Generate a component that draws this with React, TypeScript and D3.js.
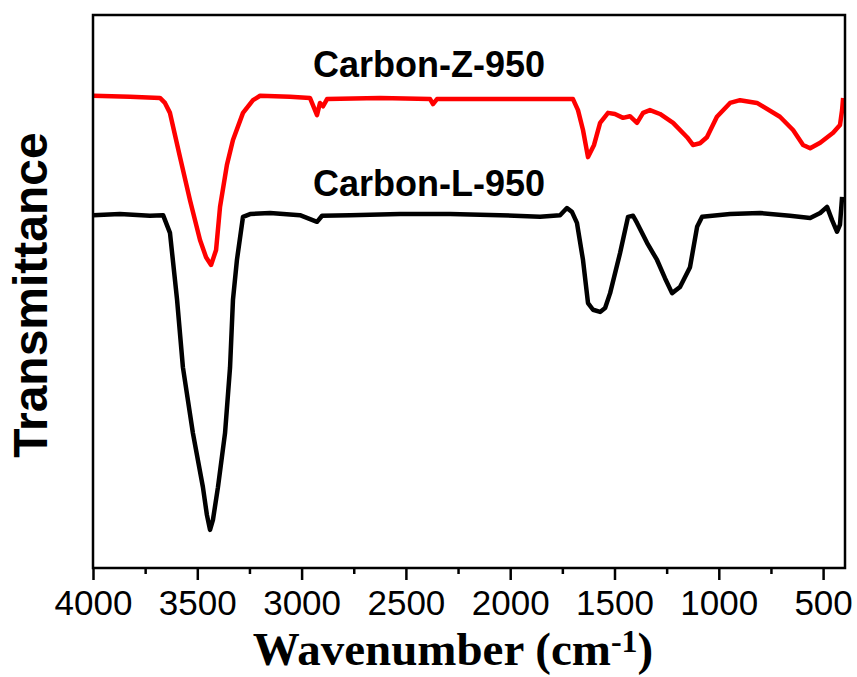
import React, { useRef, useEffect } from 'react';
import * as d3 from 'd3';

// wavenumber (cm-1) and transmittance (a.u.)
const zWave = [4000, 3823, 3679, 3655, 3631, 3583, 3535, 3487, 3458, 3434, 3410, 3391, 3358, 3329, 3281, 3233, 3199, 3056, 2960, 2926, 2912, 2897, 2878, 2624, 2384, 2370, 2351, 2049, 1699, 1675, 1651, 1627, 1598, 1569, 1531, 1498, 1459, 1426, 1392, 1363, 1330, 1282, 1219, 1152, 1124, 1090, 1057, 1009, 946, 898, 817, 707, 644, 596, 562, 514, 452, 419, 409, 404];
const zTrans = [85.4, 85.2, 85.0, 84.1, 82.3, 74.3, 66.5, 59.3, 56.2, 54.8, 57.5, 65.3, 72.9, 77.4, 82.3, 84.6, 85.4, 85.2, 85.0, 81.9, 84.1, 83.5, 84.8, 85.0, 84.8, 83.9, 84.8, 84.8, 84.8, 82.8, 79.2, 74.3, 76.5, 80.5, 82.3, 82.1, 81.4, 81.7, 80.5, 82.3, 82.8, 82.1, 80.5, 77.9, 76.5, 76.8, 77.9, 81.6, 84.1, 84.6, 84.1, 81.6, 79.2, 76.5, 75.9, 76.9, 78.7, 80.1, 82.8, 85.0];

const lWave = [4000, 3871, 3727, 3664, 3631, 3597, 3569, 3521, 3473, 3454, 3439, 3425, 3401, 3367, 3343, 3329, 3310, 3281, 3247, 3151, 3008, 2926, 2902, 2768, 2528, 2288, 2049, 1857, 1761, 1728, 1704, 1680, 1651, 1627, 1603, 1569, 1545, 1521, 1473, 1435, 1411, 1392, 1344, 1296, 1258, 1224, 1186, 1138, 1104, 1080, 946, 802, 659, 562, 514, 481, 457, 433, 419, 409];
const lTrans = [63.8, 64.0, 63.7, 63.8, 60.6, 48.5, 36.3, 24.4, 14.6, 9.6, 6.9, 8.7, 14.6, 24.4, 36.3, 48.5, 55.7, 63.5, 64.0, 64.2, 63.8, 62.6, 63.7, 63.8, 64.0, 64.0, 63.8, 63.5, 63.8, 65.1, 64.4, 62.4, 55.7, 47.9, 46.7, 46.3, 47.0, 49.7, 57.0, 63.5, 63.7, 62.4, 58.8, 55.7, 52.4, 49.7, 50.8, 54.4, 61.7, 63.5, 64.0, 64.2, 63.7, 63.3, 64.2, 65.3, 62.9, 60.8, 62.1, 67.1];

const majorTicks = [4000, 3500, 3000, 2500, 2000, 1500, 1000, 500];
const minorTicks = [3750, 3250, 2750, 2250, 1750, 1250, 750];

const seriesNames = ['Carbon-Z-950', 'Carbon-L-950'];
const seriesColors = ['#ff0000', '#000000'];

function App() {
  const ref = useRef<SVGSVGElement>(null);

  useEffect(() => {
    const svg = d3.select(ref.current);
    svg.selectAll('*').remove();

    const left = 93, right = 845, top = 15, bottom = 568;
    const x = d3.scaleLinear().domain([4000, 395]).range([left, right]);
    const y = d3.scaleLinear().domain([0, 100]).range([bottom, top]);

    const line = d3
      .line<[number, number]>()
      .x((d) => x(d[0]))
      .y((d) => y(d[1]));

    const series = [
      d3.zip(zWave, zTrans) as [number, number][],
      d3.zip(lWave, lTrans) as [number, number][],
    ];

    series.forEach((s, i) => {
      svg
        .append('path')
        .attr('d', line(s))
        .attr('fill', 'none')
        .attr('stroke', seriesColors[i])
        .attr('stroke-width', 4.5)
        .attr('stroke-linejoin', 'round');
    });

    // frame
    svg
      .append('rect')
      .attr('x', left)
      .attr('y', top)
      .attr('width', right - left)
      .attr('height', bottom - top)
      .attr('fill', 'none')
      .attr('stroke', '#000')
      .attr('stroke-width', 2.5);

    // bottom axis
    const axis = svg.append('g').attr('transform', `translate(0,${bottom})`);
    axis
      .call(d3.axisBottom(x).tickValues(majorTicks).tickSize(12).tickPadding(10).tickFormat(d3.format('d')))
      .call((g) => g.select('.domain').remove());
    axis.selectAll('line').attr('stroke-width', 2.5);
    axis
      .selectAll('text')
      .attr('font-family', 'Liberation Sans, Arial, sans-serif')
      .attr('font-size', 35)
      .attr('fill', '#000');

    const minor = svg.append('g').attr('transform', `translate(0,${bottom})`);
    minor
      .call(d3.axisBottom(x).tickValues(minorTicks).tickSize(6).tickFormat(() => ''))
      .call((g) => g.select('.domain').remove());
    minor.selectAll('line').attr('stroke-width', 2.5);

    // series labels
    const labelY = [77, 196];
    seriesNames.forEach((n, i) => {
      svg
        .append('text')
        .attr('x', 429)
        .attr('y', labelY[i])
        .attr('text-anchor', 'middle')
        .attr('font-family', 'Liberation Sans, Arial, sans-serif')
        .attr('font-weight', 'bold')
        .attr('font-size', 36)
        .text(n);
    });

    // y title
    svg
      .append('text')
      .attr('transform', 'translate(47,295) rotate(-90)')
      .attr('text-anchor', 'middle')
      .attr('font-family', 'Liberation Sans, Arial, sans-serif')
      .attr('font-weight', 'bold')
      .attr('font-size', 48)
      .text('Transmittance');

    // x title
    const xt = svg
      .append('text')
      .attr('x', 453)
      .attr('y', 665)
      .attr('text-anchor', 'middle')
      .attr('font-family', 'Liberation Serif, Times New Roman, serif')
      .attr('font-weight', 'bold')
      .attr('font-size', 47);
    xt.append('tspan').text('Wavenumber (cm');
    xt.append('tspan').attr('dy', -13).attr('font-size', 32).text('-1');
    xt.append('tspan').attr('dy', 13).text(')');
  }, []);

  return (
    <svg
      ref={ref}
      width={857}
      height={677}
      style={{ position: 'absolute', left: 0, top: 0, background: '#fff' }}
    />
  );
}

export default App;
